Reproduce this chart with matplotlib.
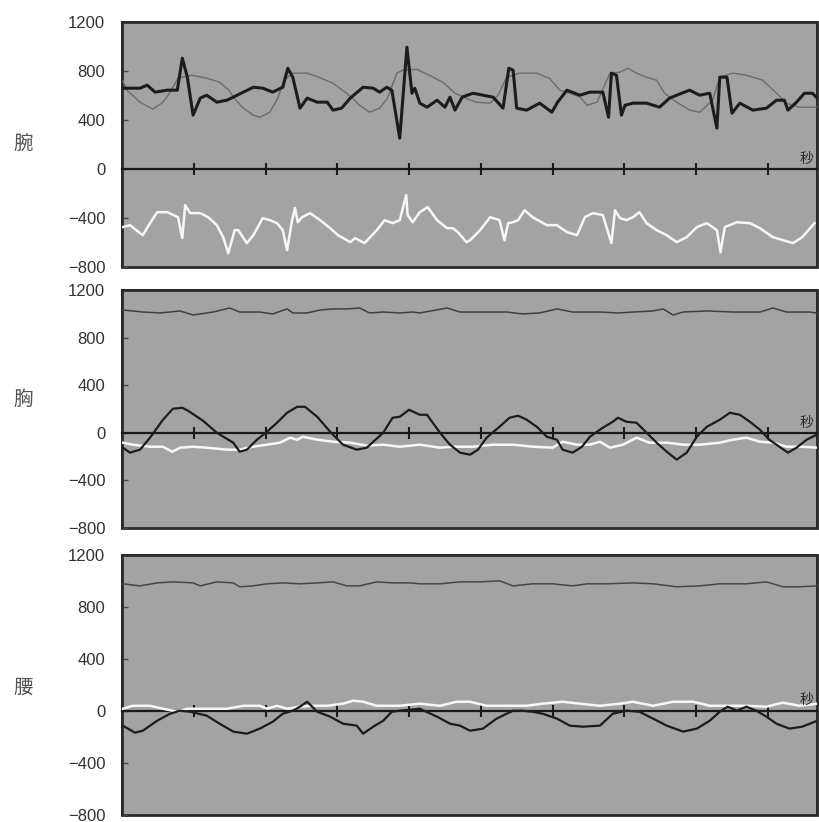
import matplotlib
matplotlib.use("Agg")
import matplotlib.pyplot as plt

plt.rcParams['font.family'] = ['Liberation Sans', 'Noto Sans CJK JP']

# === 腕 (wrist) ===
wan_black_t = [0.00, 0.07, 0.25, 0.35, 0.46, 0.63, 0.77, 0.84, 0.91, 0.99, 1.09, 1.18, 1.32, 1.46,
               1.55, 1.69, 1.83, 1.96, 2.10, 2.24, 2.31, 2.38, 2.48, 2.58, 2.72, 2.86, 2.94, 3.06,
               3.18, 3.36, 3.50, 3.59, 3.69, 3.76, 3.87, 3.97, 4.04, 4.08, 4.15, 4.25, 4.39, 4.50,
               4.57, 4.64, 4.74, 4.89, 5.03, 5.17, 5.31, 5.39, 5.45, 5.50, 5.64, 5.82, 5.99, 6.07,
               6.20, 6.38, 6.52, 6.70, 6.78, 6.82, 6.89, 6.96, 7.01, 7.12, 7.31, 7.49, 7.63, 7.73,
               7.91, 8.05, 8.19, 8.29, 8.33, 8.43, 8.50, 8.61, 8.79, 8.98, 9.12, 9.23, 9.28, 9.40,
               9.51, 9.62, 9.69]
wan_black_v = [661, 661, 661, 686, 629, 645, 645, 906, 751, 441, 580, 604, 547, 563,
               588, 629, 669, 661, 629, 669, 824, 751, 498, 580, 547, 547, 482, 498,
               580, 669, 661, 629, 669, 645, 253, 996, 620, 661, 539, 506, 563, 506,
               588, 482, 588, 620, 604, 588, 498, 824, 808, 498, 482, 539, 465, 547,
               645, 604, 629, 629, 424, 784, 767, 441, 522, 539, 539, 506, 580, 604,
               645, 604, 620, 335, 751, 751, 457, 539, 482, 498, 563, 563, 482, 547,
               620, 620, 580]
wan_gray_t = [0.01, 0.07, 0.25, 0.43, 0.57, 0.65, 0.78, 0.97, 1.18, 1.36, 1.49, 1.56, 1.69, 1.83,
              1.92, 2.06, 2.17, 2.26, 2.38, 2.58, 2.74, 2.94, 3.13, 3.22, 3.31, 3.45, 3.59, 3.70,
              3.83, 3.91, 4.11, 4.28, 4.47, 4.64, 4.81, 4.94, 5.13, 5.24, 5.36, 5.54, 5.78, 5.96,
              6.10, 6.24, 6.38, 6.48, 6.62, 6.80, 6.94, 7.05, 7.17, 7.31, 7.45, 7.56, 7.73, 7.91,
              8.05, 8.23, 8.33, 8.51, 8.70, 8.93, 9.12, 9.26, 9.44, 9.69]
wan_gray_v = [720, 645, 547, 490, 547, 610, 743, 767, 743, 710, 645, 580, 498, 441,
              424, 465, 580, 726, 784, 784, 751, 702, 620, 575, 522, 465, 498, 580,
              784, 808, 815, 767, 710, 620, 575, 547, 539, 604, 751, 784, 784, 740,
              645, 620, 590, 522, 547, 784, 792, 824, 784, 751, 726, 620, 547, 482,
              465, 563, 751, 784, 767, 726, 620, 539, 506, 506]
wan_white_t = [0.01, 0.11, 0.25, 0.29, 0.39, 0.49, 0.63, 0.78, 0.84, 0.88, 0.95, 1.09, 1.20, 1.32,
               1.41, 1.48, 1.57, 1.62, 1.74, 1.83, 1.96, 2.06, 2.16, 2.24, 2.30, 2.37, 2.41, 2.45,
               2.51, 2.62, 2.76, 2.90, 3.01, 3.18, 3.25, 3.38, 3.55, 3.66, 3.77, 3.87, 3.96, 3.98,
               4.05, 4.15, 4.26, 4.39, 4.53, 4.61, 4.68, 4.80, 4.85, 4.99, 5.13, 5.26, 5.33, 5.38,
               5.45, 5.52, 5.61, 5.72, 5.92, 6.06, 6.20, 6.34, 6.45, 6.56, 6.70, 6.82, 6.87, 6.94,
               7.03, 7.12, 7.21, 7.31, 7.45, 7.59, 7.73, 7.87, 8.01, 8.15, 8.29, 8.34, 8.40, 8.57,
               8.75, 8.89, 9.07, 9.21, 9.35, 9.48, 9.65]
wan_white_v = [-473, -457, -522, -539, -441, -351, -351, -392, -563, -294, -359, -359, -392, -457,
               -555, -686, -498, -498, -604, -539, -400, -416, -441, -498, -661, -416, -318, -433,
               -392, -359, -416, -482, -539, -596, -563, -604, -498, -416, -441, -416, -212, -375,
               -433, -351, -310, -416, -482, -482, -514, -596, -580, -498, -392, -416, -580, -441,
               -433, -416, -335, -392, -457, -457, -514, -539, -392, -359, -375, -604, -335, -400,
               -416, -392, -351, -441, -498, -539, -596, -555, -473, -441, -498, -678, -473, -433,
               -441, -482, -555, -580, -604, -555, -441]

# === 胸 (chest) ===
xiong_gray_t = [0.01, 0.29, 0.53, 0.81, 0.99, 1.27, 1.50, 1.64, 1.92, 2.10, 2.30, 2.38, 2.58, 2.76,
                2.94, 3.13, 3.31, 3.45, 3.64, 3.87, 4.05, 4.15, 4.53, 4.71, 5.03, 5.36, 5.58, 5.82,
                6.06, 6.28, 6.66, 6.91, 7.12, 7.40, 7.54, 7.68, 7.82, 8.15, 8.51, 8.89, 9.07, 9.26,
                9.58, 9.69]
xiong_gray_v = [1033, 1016, 1008, 1025, 991, 1016, 1050, 1016, 1016, 1000, 1042, 1008, 1008, 1033,
                1042, 1042, 1050, 1008, 1016, 1008, 1016, 1008, 1050, 1016, 1016, 1016, 1000, 1008,
                1042, 1016, 1016, 1008, 1016, 1025, 1042, 991, 1016, 1025, 1016, 1016, 1050, 1016,
                1016, 1008]
xiong_black_t = [0.01, 0.11, 0.25, 0.39, 0.57, 0.71, 0.84, 0.92, 1.13, 1.32, 1.55, 1.64, 1.74, 1.88,
                 2.02, 2.16, 2.30, 2.44, 2.55, 2.72, 2.90, 3.08, 3.27, 3.41, 3.64, 3.77, 3.87, 4.00,
                 4.15, 4.25, 4.43, 4.57, 4.71, 4.85, 4.96, 5.08, 5.26, 5.40, 5.52, 5.64, 5.78, 5.92,
                 6.06, 6.14, 6.28, 6.41, 6.52, 6.70, 6.84, 6.91, 7.03, 7.17, 7.31, 7.45, 7.59, 7.73,
                 7.87, 8.01, 8.15, 8.33, 8.47, 8.61, 8.75, 8.89, 9.02, 9.16, 9.28, 9.40, 9.54, 9.68]
xiong_black_v = [-126, -168, -143, -42, 109, 202, 210, 185, 100, 0, -84, -160, -143, -59,
                 8, 84, 168, 218, 218, 134, 8, -101, -143, -126, 0, 126, 134, 193,
                 151, 151, 0, -101, -168, -185, -143, -42, 50, 126, 143, 109, 50, -34,
                 -59, -143, -168, -118, -34, 42, 92, 126, 92, 84, 0, -84, -160, -227,
                 -168, -34, 50, 109, 168, 151, 92, 25, -59, -118, -168, -126, -59, -17]
xiong_white_t = [0.01, 0.15, 0.39, 0.57, 0.70, 0.81, 0.99, 1.18, 1.46, 1.64, 1.82, 2.02, 2.20, 2.34,
                 2.44, 2.52, 2.72, 2.94, 3.18, 3.41, 3.64, 3.87, 4.15, 4.43, 4.61, 4.89, 5.17, 5.45,
                 5.72, 6.00, 6.14, 6.34, 6.52, 6.66, 6.80, 6.98, 7.17, 7.35, 7.59, 7.82, 8.05, 8.33,
                 8.51, 8.70, 8.89, 9.07, 9.26, 9.48, 9.68]
xiong_white_v = [-84, -101, -118, -118, -160, -126, -118, -126, -143, -143, -118, -101, -84, -42,
                 -59, -34, -59, -76, -84, -109, -101, -118, -101, -126, -118, -118, -101, -101,
                 -118, -126, -76, -101, -101, -76, -126, -101, -42, -84, -84, -101, -101, -84,
                 -59, -42, -76, -84, -118, -118, -126]

# === 腰 (waist) ===
yao_gray_t = [0.01, 0.25, 0.49, 0.71, 0.99, 1.09, 1.32, 1.55, 1.64, 1.82, 2.02, 2.24, 2.48, 2.72,
              2.94, 3.13, 3.31, 3.55, 3.77, 4.01, 4.15, 4.43, 4.71, 4.99, 5.26, 5.45, 5.72, 6.00,
              6.28, 6.48, 6.75, 7.12, 7.40, 7.73, 8.05, 8.33, 8.70, 8.98, 9.21, 9.44, 9.69]
yao_gray_v = [977, 961, 984, 992, 984, 961, 992, 984, 954, 961, 977, 984, 977, 984,
              992, 961, 961, 992, 984, 984, 977, 977, 992, 992, 1000, 961, 977, 977,
              961, 977, 977, 984, 977, 954, 961, 977, 977, 992, 954, 954, 961]
yao_black_t = [0.01, 0.18, 0.29, 0.49, 0.67, 0.81, 0.95, 1.18, 1.36, 1.55, 1.74, 1.92, 2.10, 2.24,
               2.38, 2.48, 2.58, 2.65, 2.72, 2.90, 3.08, 3.27, 3.36, 3.50, 3.64, 3.76, 3.87, 4.15,
               4.39, 4.57, 4.71, 4.85, 5.03, 5.22, 5.36, 5.45, 5.58, 5.72, 5.86, 6.06, 6.24, 6.42,
               6.66, 6.84, 7.03, 7.21, 7.40, 7.59, 7.82, 8.01, 8.19, 8.33, 8.44, 8.57, 8.70, 8.84,
               8.98, 9.12, 9.30, 9.48, 9.69]
yao_black_v = [-115, -169, -154, -77, -23, 0, -8, -38, -100, -161, -177, -138, -85, -23,
               0, 31, 69, 31, -8, -46, -100, -115, -177, -123, -77, -8, 0, 15,
               -46, -100, -115, -154, -138, -61, -23, 0, 0, -8, -23, -61, -115, -123,
               -115, -23, 0, -8, -61, -115, -161, -138, -77, -8, 31, 0, 31, 0,
               -46, -100, -138, -123, -77]
yao_white_t = [0.01, 0.15, 0.39, 0.57, 0.77, 0.91, 1.18, 1.46, 1.69, 1.92, 2.02, 2.16, 2.30, 2.48,
               2.66, 2.86, 3.08, 3.22, 3.36, 3.55, 3.87, 4.15, 4.43, 4.66, 4.85, 5.08, 5.36, 5.64,
               5.86, 6.14, 6.38, 6.66, 6.94, 7.12, 7.40, 7.68, 7.96, 8.19, 8.47, 8.70, 8.98, 9.21,
               9.44, 9.69]
yao_white_v = [15, 38, 38, 15, -8, 15, 15, 15, 38, 38, 15, 38, 15, 31,
               38, 38, 54, 77, 69, 38, 38, 54, 38, 69, 69, 38, 38, 38,
               54, 69, 54, 38, 54, 69, 38, 69, 69, 38, 38, 38, 31, 62,
               38, 54]

panel_names = ['腕', '胸', '腰']
y_ticks = [-800, -400, 0, 400, 800, 1200]
x_ticks = [1, 2, 3, 4, 5, 6, 7, 8, 9]
t_max = 9.69

panels = [
    (wan_black_t, wan_black_v, wan_gray_t, wan_gray_v, wan_white_t, wan_white_v),
    (xiong_black_t, xiong_black_v, xiong_gray_t, xiong_gray_v, xiong_white_t, xiong_white_v),
    (yao_black_t, yao_black_v, yao_gray_t, yao_gray_v, yao_white_t, yao_white_v),
]

# axes boxes [left, bottom, width, height] in figure fractions
boxes = [[0.149, 0.675, 0.849, 0.298],
         [0.149, 0.358, 0.849, 0.289],
         [0.149, 0.009, 0.849, 0.316]]
name_y = [0.506, 0.538, 0.488]
sec_x = [9.44, 9.44, 9.44]
black_lw = [2.2, 1.6, 1.6]
gray_style = [('#6c6c6c', 1.0), ('#404040', 1.1), ('#474747', 1.1)]

fig = plt.figure(figsize=(8.19, 8.22), dpi=100)

for i, (bt, bv, gt, gv, wt, wv) in enumerate(panels):
    ax = fig.add_axes(boxes[i])
    ax.set_facecolor('#a3a3a3')
    ax.plot(gt, gv, color=gray_style[i][0], lw=gray_style[i][1], zorder=3)
    ax.plot(wt, wv, color='#f7f7f7', lw=1.8, zorder=4)
    ax.plot(bt, bv, color='#1c1c1c', lw=black_lw[i], zorder=5)

    ax.set_xlim(0, t_max)
    ax.set_ylim(-800, 1200)
    ax.set_yticks(y_ticks)
    ax.tick_params(axis='y', direction='in', length=4, width=1, color='#444444',
                   labelsize=12, labelcolor='#333333', pad=12)

    # time axis sits on the zero line
    ax.spines['bottom'].set_position(('data', 0))
    ax.spines['bottom'].set_linewidth(1.6)
    ax.spines['bottom'].set_color('#1a1a1a')
    ax.set_xticks(x_ticks)
    ax.set_xticklabels([])
    ax.tick_params(axis='x', direction='inout', length=8, width=1.5, color='#1a1a1a')
    for s in ['top', 'left', 'right']:
        ax.spines[s].set_linewidth(1.4)
        ax.spines[s].set_color('#2a2a2a')
    ax.patch.set_edgecolor('#2a2a2a')
    ax.patch.set_linewidth(2.0)

    ax.text(sec_x[i], 25, '秒', fontsize=10, color='#2a2a2a', ha='left', va='bottom',
            family=['Noto Sans CJK JP'], zorder=6)
    fig.text(0.028, boxes[i][1] + name_y[i] * boxes[i][3], panel_names[i], fontsize=14,
             color='#555555', ha='center', va='center', family=['Noto Sans CJK JP'])

fig.savefig('out.png', dpi=100)
